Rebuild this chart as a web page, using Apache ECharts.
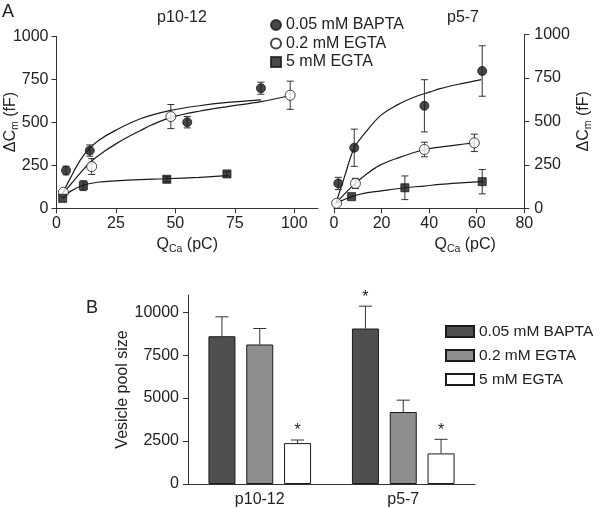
<!DOCTYPE html>
<html><head><meta charset="utf-8">
<script src="https://cdn.jsdelivr.net/npm/echarts@6/dist/echarts.min.js"></script>
<style>html,body{margin:0;padding:0;background:#fff}#c{width:600px;height:508px}</style>
</head><body><div id="c"></div>
<script>
// ---------------- data ----------------
const treatmentLabels = ['0.05 mM BAPTA', '0.2 mM EGTA', '5 mM EGTA'];

// Panel A, p10-12 : [QCa (pC), ΔCm (fF), error]
const p1012Bapta  = [[4, 220, 25], [14, 336, 33], [55, 501, 33], [86, 699, 35]];
const p1012Egta02 = [[2.9, 93, 0], [14.8, 243, 46], [48.1, 534, 70], [98.3, 658, 82]];
const p1012Egta5  = [[2.6, 58, 0], [11.3, 132, 29], [46.4, 169, 15], [71.7, 200, 12]];
// fitted curves as drawn, p10-12
const p1012FitBapta  = [[2.2, 78], [6, 180], [10, 280], [14, 350], [18, 398], [25, 455], [35, 520], [48, 570], [60, 597], [72, 616], [86, 631]];
const p1012FitEgta02 = [[2.2, 78], [6, 140], [10, 205], [14.8, 275], [20, 330], [25, 375], [30, 415], [35, 450], [40, 485], [48, 528], [60, 565], [72, 592], [86, 621], [97, 652]];
const p1012FitEgta5  = [[2.6, 58], [6, 100], [11.3, 134], [18, 153], [25, 160], [35, 167], [46, 172], [60, 180], [72, 190]];

// Panel A, p5-7 : [QCa (pC), ΔCm (fF), error]
const p57Bapta  = [[1.8, 143, 35], [8.5, 348, 107], [38, 589, 150], [62.3, 789, 145]];
const p57Egta02 = [[1.1, 29, 0], [9, 143, 29], [38, 338, 42], [59, 376, 50]];
const p57Egta5  = [[7.4, 67, 0], [29.8, 118, 68], [62.3, 153, 70]];
// fitted curves as drawn, p5-7
const p57FitBapta  = [[0.8, 29], [4.5, 185], [8.5, 348], [12.3, 420], [19.3, 530], [26.4, 593], [33.3, 637], [40.4, 669], [44.6, 688], [53, 715], [62, 740]];
const p57FitEgta02 = [[0.8, 29], [5, 90], [9, 143], [14, 200], [19.3, 248], [26.4, 287], [38, 338], [44.6, 352], [52, 365], [59, 376]];
const p57FitEgta5  = [[0.8, 29], [7.4, 67], [13, 87], [19.3, 99], [29.8, 118], [38, 128], [44.6, 138], [53, 146], [62.3, 153]];

// Panel B : vesicle pool size
const ageGroups = ['p10-12', 'p5-7'];
const poolBapta     = [8600, 9050];
const poolBaptaErr  = [1130, 1300];
const poolEgta02    = [8120, 4190];
const poolEgta02Err = [930, 690];
const poolEgta5     = [2380, 1780];
const poolEgta5Err  = [180, 820];
const poolSignif    = [[0, 0, 1], [1, 0, 1]]; // per age group, per treatment

// tick values
const ticksA1x = [0, 25, 50, 75, 100];
const ticksA2x = [0, 20, 40, 60, 80];
const ticksAy  = [0, 250, 500, 750, 1000];
const ticksBy  = [0, 2500, 5000, 7500, 10000];

// ---------------- style ----------------
const FONT = '"Liberation Sans", Arial, sans-serif';
const TXT = '#222';
const AX = '#333';
const BAR_W = 27;
const BAR_GAP = 0.4;
const barColors = ['#4f4f4f', '#8e8e8e', '#ffffff'];

const chart = echarts.init(document.getElementById('c'), null, {renderer: 'canvas'});

function errRender(capHalf) {
  return function (params, api) {
    const x = api.value(0), y = api.value(1), e = api.value(2);
    if (!e) return {type: 'group', children: []};
    const t = api.coord([x, y + e]), b = api.coord([x, y - e]);
    const st = {stroke: AX, lineWidth: 1};
    return {type: 'group', children: [
      {type: 'line', shape: {x1: t[0], y1: t[1], x2: b[0], y2: b[1]}, style: st},
      {type: 'line', shape: {x1: t[0] - capHalf, y1: t[1], x2: t[0] + capHalf, y2: t[1]}, style: st},
      {type: 'line', shape: {x1: b[0] - capHalf, y1: b[1], x2: b[0] + capHalf, y2: b[1]}, style: st}
    ]};
  };
}

function barErrRender(params, api) {
  const i = api.value(0), v = api.value(1), e = api.value(2), k = api.value(3), sig = api.value(4);
  const off = (k - 1) * BAR_W * (1 + BAR_GAP);
  const b = api.coord([i, v]), t = api.coord([i, v + e]);
  const x = b[0] + off;
  const st = {stroke: AX, lineWidth: 1};
  const ch = [
    {type: 'line', shape: {x1: x, y1: b[1], x2: x, y2: t[1]}, style: st},
    {type: 'line', shape: {x1: x - 6.5, y1: t[1], x2: x + 6.5, y2: t[1]}, style: st}
  ];
  if (sig) ch.push({type: 'text', style: {text: '*', x: x, y: t[1] - 1, align: 'center', verticalAlign: 'bottom', fontSize: 16, fontFamily: FONT, fill: TXT}});
  return {type: 'group', children: ch};
}

const barErrData = [];
[[poolBapta, poolBaptaErr], [poolEgta02, poolEgta02Err], [poolEgta5, poolEgta5Err]].forEach(function (pair, k) {
  pair[0].forEach(function (v, i) { barErrData.push([i, v, pair[1][i], k, poolSignif[i][k]]); });
});

const nameMap = {A0: treatmentLabels[0], A1: treatmentLabels[1], A2: treatmentLabels[2],
                 B0: treatmentLabels[0], B1: treatmentLabels[1], B2: treatmentLabels[2]};

const scatterStyles = [
  {symbol: 'circle', symbolSize: 9, itemStyle: {color: '#1a1a1a', borderColor: '#1a1a1a', borderWidth: 1}},
  {symbol: 'circle', symbolSize: 10, itemStyle: {color: '#ffffff', borderColor: '#1a1a1a', borderWidth: 1}},
  {symbol: 'rect', symbolSize: 8, itemStyle: {color: '#1a1a1a', borderColor: '#1a1a1a', borderWidth: 1}}
];

const plain = function (v) { return String(v); };
const labelStyle = {color: TXT, fontSize: 16, fontFamily: FONT, formatter: plain};
const richName = {
  n: {fontSize: 16, fontFamily: FONT, color: TXT},
  s: {fontSize: 10.5, fontFamily: FONT, color: TXT, padding: [9, 0, 0, 0]}
};

function valAxis(extra) {
  return Object.assign({
    type: 'value',
    axisLine: {show: true, onZero: false, lineStyle: {color: AX, width: 1}},
    axisTick: {show: true, length: 5, lineStyle: {color: AX}},
    splitLine: {show: false},
    axisLabel: Object.assign({margin: 8}, labelStyle)
  }, extra);
}

const series = [];
const panelA = [
  {pts: [p1012Bapta, p1012Egta02, p1012Egta5], fits: [p1012FitBapta, p1012FitEgta02, p1012FitEgta5], ax: 0},
  {pts: [p57Bapta, p57Egta02, p57Egta5], fits: [p57FitBapta, p57FitEgta02, p57FitEgta5], ax: 1}
];
panelA.forEach(function (p) {
  p.fits.forEach(function (f) {
    series.push({type: 'line', xAxisIndex: p.ax, yAxisIndex: p.ax, data: f, smooth: 0.35, showSymbol: false,
      symbol: 'none', lineStyle: {color: '#1a1a1a', width: 1.2}, z: 2, silent: true});
  });
  p.pts.forEach(function (d) {
    series.push({type: 'custom', xAxisIndex: p.ax, yAxisIndex: p.ax, data: d, renderItem: errRender(3.5),
      encode: {x: 0, y: 1}, z: 3, silent: true});
  });
  p.pts.forEach(function (d, k) {
    series.push(Object.assign({type: 'scatter', name: 'A' + k, xAxisIndex: p.ax, yAxisIndex: p.ax,
      data: d.map(function (r) { return [r[0], r[1]]; }), z: 4}, scatterStyles[k]));
  });
});

[poolBapta, poolEgta02, poolEgta5].forEach(function (vals, k) {
  series.push({type: 'bar', name: 'B' + k, xAxisIndex: 2, yAxisIndex: 2, data: vals,
    barWidth: BAR_W, barGap: (BAR_GAP * 100) + '%',
    itemStyle: {color: barColors[k], borderColor: '#1a1a1a', borderWidth: 1}, z: 2});
});
series.push({type: 'custom', xAxisIndex: 2, yAxisIndex: 2, data: barErrData, renderItem: barErrRender,
  encode: {x: 0, y: 1}, z: 3, silent: true});

const option = {
  animation: false,
  backgroundColor: '#fff',
  textStyle: {fontFamily: FONT},
  grid: [
    {left: 56.5, top: 36.5, width: 261.5, height: 171.8, outerBoundsMode: 'none', containLabel: false},
    {left: 334, top: 34.3, width: 190.3, height: 174, outerBoundsMode: 'none', containLabel: false},
    {left: 188, top: 295, width: 287, height: 189, outerBoundsMode: 'none', containLabel: false}
  ],
  xAxis: [
    valAxis({gridIndex: 0, min: 0, max: 110, interval: 25,
      axisLabel: Object.assign({margin: 7, customValues: ticksA1x}, labelStyle),
      axisTick: {show: true, length: 5, lineStyle: {color: AX}, customValues: ticksA1x},
      name: '{n|Q}{s|Ca}{n| (pC)}', nameLocation: 'middle', nameGap: 26, nameTextStyle: {rich: richName}}),
    valAxis({gridIndex: 1, min: 0, max: 80, interval: 20,
      axisLabel: Object.assign({margin: 7, customValues: ticksA2x}, labelStyle),
      axisTick: {show: true, length: 5, lineStyle: {color: AX}, customValues: ticksA2x},
      name: '{n|Q}{s|Ca}{n| (pC)}', nameLocation: 'middle', nameGap: 26,
      nameTextStyle: {rich: richName, padding: [0, 0, 0, 72]}}),
    {type: 'category', gridIndex: 2, data: ageGroups,
      axisLine: {show: true, onZero: false, lineStyle: {color: AX, width: 1}},
      axisTick: {show: false},
      axisLabel: {margin: 8, color: TXT, fontSize: 16, fontFamily: FONT}}
  ],
  yAxis: [
    valAxis({gridIndex: 0, min: 0, max: 1000, interval: 250,
      axisLabel: Object.assign({margin: 8, customValues: ticksAy}, labelStyle)}),
    valAxis({gridIndex: 1, min: 0, max: 1000, interval: 250, position: 'right',
      axisLabel: Object.assign({margin: 10, customValues: ticksAy}, labelStyle),
      name: '{n|ΔC}{s|m}{n| (fF)}', nameLocation: 'middle', nameGap: 49, nameRotate: 90,
      nameTextStyle: {rich: richName}}),
    valAxis({gridIndex: 2, min: 0, max: 11000, interval: 2500,
      axisLabel: Object.assign({margin: 9, customValues: ticksBy}, labelStyle),
      axisTick: {show: true, length: 5, lineStyle: {color: AX}, customValues: ticksBy},
      name: 'Vesicle pool size', nameLocation: 'middle', nameGap: 52, nameRotate: 90,
      nameTextStyle: {fontSize: 16, fontFamily: FONT, color: TXT}})
  ],
  legend: [
    {orient: 'vertical', left: 270, top: 17, padding: 0, itemGap: 2.5, itemWidth: 10, itemHeight: 10,
      selectedMode: false, data: ['A0', 'A1', 'A2'], formatter: function (n) { return nameMap[n]; },
      textStyle: {fontSize: 16, fontFamily: FONT, color: TXT}},
    {orient: 'vertical', left: 445, top: 323.5, padding: 0, itemGap: 8, itemWidth: 28, itemHeight: 11,
      selectedMode: false, icon: 'rect', data: ['B0', 'B1', 'B2'], formatter: function (n) { return nameMap[n]; },
      textStyle: {fontSize: 15.5, fontFamily: FONT, color: TXT}}
  ],
  graphic: [
    {type: 'text', left: 2, top: 3, style: {text: 'A', fontSize: 18, fontFamily: FONT, fill: TXT}},
    {type: 'text', left: 86, top: 299, style: {text: 'B', fontSize: 18, fontFamily: FONT, fill: TXT}},
    {type: 'text', x: 182, y: 17.5, style: {text: 'p10-12', fontSize: 16, fontFamily: FONT, fill: TXT, align: 'center', verticalAlign: 'middle'}},
    {type: 'text', x: 463, y: 18, style: {text: 'p5-7', fontSize: 16, fontFamily: FONT, fill: TXT, align: 'center', verticalAlign: 'middle'}},
    {type: 'text', x: 11, y: 122, rotation: Math.PI / 2,
      style: {text: '{n|ΔC}{s|m}{n| (fF)}', rich: richName, align: 'center', verticalAlign: 'middle', fill: TXT, fontSize: 16, fontFamily: FONT}}
  ],
  series: series
};
chart.setOption(option);
</script>
</body></html>
